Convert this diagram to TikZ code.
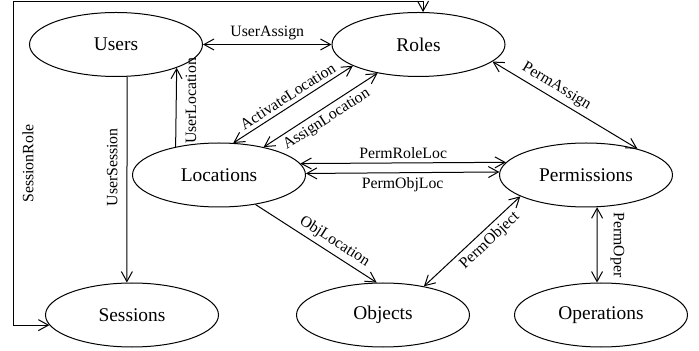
\documentclass[tikz,border=0pt]{standalone}
\usepackage{fontspec}
\setmainfont{Liberation Serif}
\usetikzlibrary{shapes.geometric,arrows.meta}
\tikzset{
	entity/.style={ellipse, draw, line width=.5pt, minimum width=86.5pt, minimum height=32pt, inner sep=0pt, font=\fontsize{9.7}{11}\selectfont},
	rel/.style={line width=.5pt, >={Straight Barb[length=5pt,width=5.5pt]}},
	lbl/.style={inner sep=2pt, font=\fontsize{7.9}{9}\selectfont},
	vlbl/.style={lbl, inner sep=4.5pt}
}
\begin{document}
\begin{tikzpicture}[x=0.5pt,y=-0.5pt]
	\useasboundingbox (0,0) rectangle (699,351);
	\node[entity] (users) at (116,44.5) {Users};
	\node[entity] (roles) at (418.5,44.5) {Roles};
	\node[entity] (locations) at (219,175) {Locations};
	\node[entity] (permissions) at (586,175) {Permissions};
	\node[entity] (sessions) at (132,315) {Sessions};
	\node[entity] (objects) at (383,315) {Objects};
	\node[entity] (operations) at (601,315) {Operations};
	\coordinate (srtop) at (13,2);
	\draw[rel,<->] (users.east) -- node[lbl,midway,above] (ua) {UserAssign} (roles.west);
	\draw[rel,->] (users.-71) -- node[vlbl,pos=.44,rotate=90,above] (us) {UserSession} (sessions.99);
	\draw[rel,->] (locations.147) -- node[vlbl,pos=.58,rotate=90,below] (ul) {UserLocation} (users.-21);
	\draw[rel,<->] (locations.66) -- node[lbl,midway,sloped,above] (al) {ActivateLocation} (roles.-162);
	\draw[rel,<->] (locations.32.5) -- node[lbl,midway,sloped,below] (asl) {AssignLocation} (roles.-145);
	\draw[rel,<->] (locations.8.5) -- node[lbl,midway,above] (prl) {PermRoleLoc} (permissions.171.5);
	\draw[rel,<->] (locations.1.3) -- node[lbl,midway,below] (pol) {PermObjLoc} (permissions.178.7);
	\draw[rel,<->] (roles.-13.4) -- node[lbl,pos=.4,sloped,above] (pa) {PermAssign} (permissions.27.4);
	\draw[rel,->] (locations.-39.3) -- node[lbl,pos=.6,sloped,above] (ol) {ObjLocation} (objects.101);
	\draw[rel,<->] (objects.35) -- node[lbl,pos=.6,sloped,below] (po) {PermObject} (permissions.-162);
	\draw[rel,<->] (permissions.-71) -- node[vlbl,inner sep=6.5pt,midway,rotate=-90,above] (pop) {PermOper} (operations.97);
	\draw[rel,<->] (sessions.-173) -| node[vlbl,pos=.75,rotate=90,below] (sr) {SessionRole} (srtop) -| (roles.82);
\end{tikzpicture}
\end{document}
